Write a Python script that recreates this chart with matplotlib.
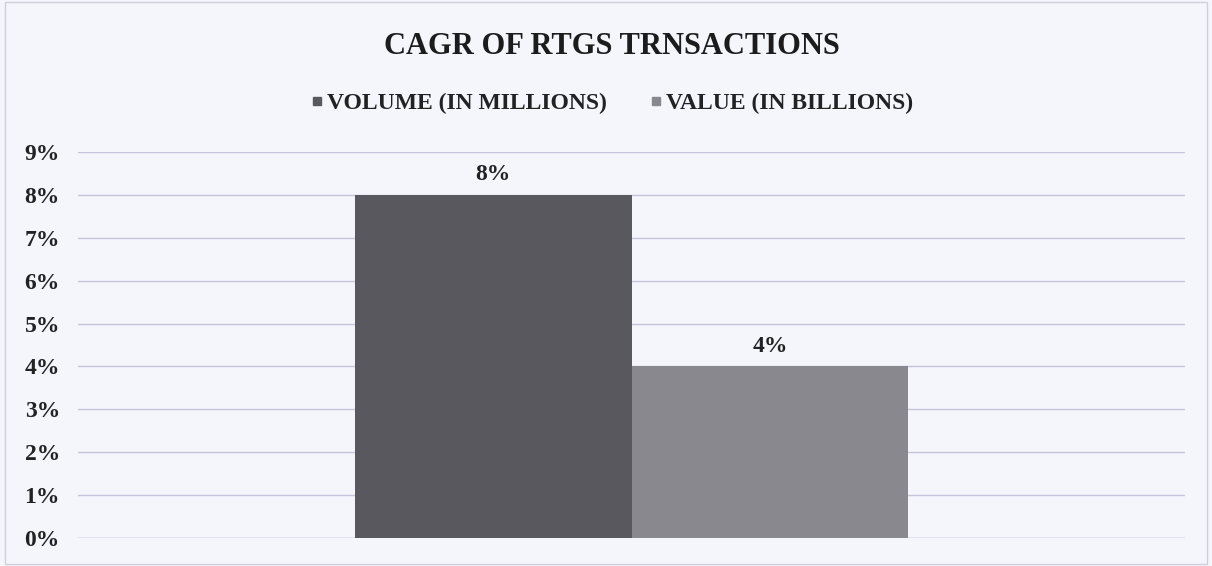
import matplotlib
matplotlib.use("Agg")
import matplotlib.pyplot as plt
from matplotlib.ticker import FuncFormatter
from matplotlib.lines import Line2D
from matplotlib.patches import Rectangle

# Data
series = ["VOLUME (IN MILLIONS)", "VALUE (IN BILLIONS)"]
cagr = [8, 4]  # percent
y_ticks = [0, 1, 2, 3, 4, 5, 6, 7, 8, 9]

colors = ["#58585e", "#88888e"]
bg = "#f5f5fc"
grid_color = "#c4c4da"
font = "Liberation Serif"

plt.rcParams["font.family"] = [font, "DejaVu Serif"]

fig = plt.figure(figsize=(12.12, 5.66), dpi=100, facecolor=bg)
ax = fig.add_axes([0.0644, 0.0495, 0.9133, 0.682])
ax.set_facecolor(bg)

width = 0.25
offsets = [-width / 2, width / 2]
for off, val, col, name in zip(offsets, cagr, colors, series):
    ax.bar(off, val, width=width, color=col, label=name, zorder=3)
    ax.text(off, val + 0.22, f"{val}%", ha="center", va="bottom",
            fontsize=17, fontweight="bold", color="#222222", zorder=4)

ax.set_xlim(-0.5, 0.5)
ax.set_ylim(0, 9)
ax.set_yticks(y_ticks)
ax.yaxis.set_major_formatter(FuncFormatter(lambda v, p: f"{int(v)}%"))
ax.set_xticks([])
ax.grid(axis="y", color=grid_color, linewidth=1.0, zorder=0)
for s in ax.spines.values():
    s.set_visible(False)
ax.tick_params(axis="y", length=0, pad=13, labelsize=17, labelcolor="#222222")
for lbl in ax.get_yticklabels():
    lbl.set_fontweight("bold")
ax.axhline(0, color=grid_color, linewidth=1.0, zorder=2)

fig.text(0.505, 0.917, "CAGR OF RTGS TRNSACTIONS", ha="center", va="center",
         fontsize=22, fontweight="bold", color="#1c1c1c")

handles = [Line2D([], [], marker="s", linestyle="none", markersize=6,
                  color=c) for c in colors]
fig.legend(handles, series, loc="center", bbox_to_anchor=(0.505, 0.818),
           ncol=2, frameon=False, handlelength=0.5, handletextpad=0.2,
           columnspacing=1.8, prop={"family": font, "weight": "bold", "size": 17},
           labelcolor="#222222")

fig.patches.append(Rectangle((0.004, 0.004), 0.992, 0.992, transform=fig.transFigure,
                             fill=False, edgecolor="#d0d0dc", linewidth=1.0))

fig.savefig("out.png", dpi=100, facecolor=bg)
